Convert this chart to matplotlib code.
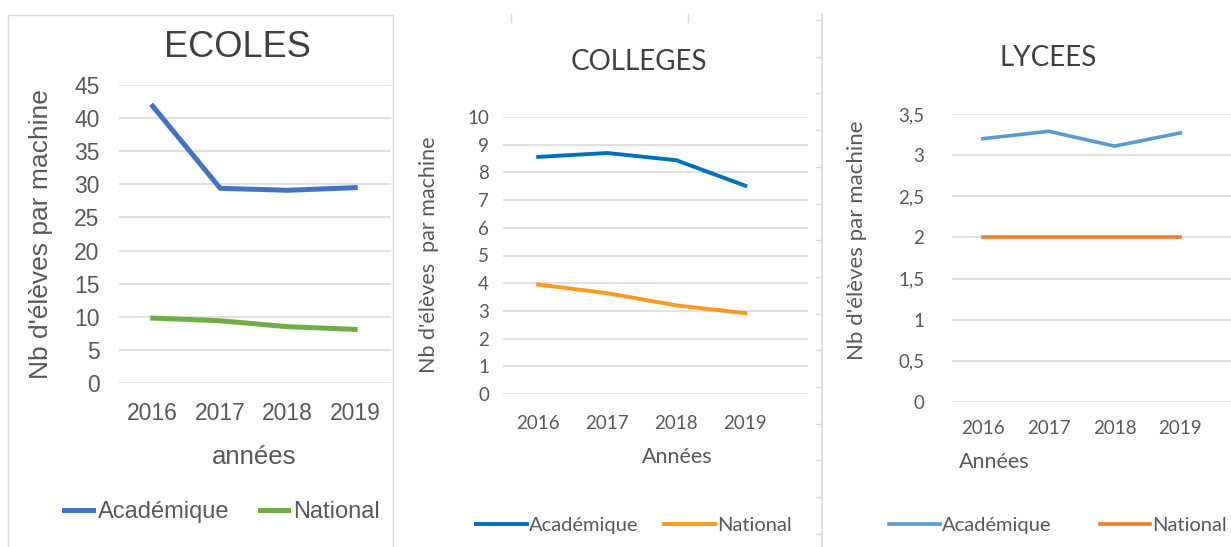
import matplotlib
matplotlib.use("Agg")
import matplotlib.pyplot as plt
from matplotlib.patches import Rectangle
from matplotlib.lines import Line2D

# --- Données ---
annees = ["2016", "2017", "2018", "2019"]

ecoles_academique = [41.8, 29.4, 29.1, 29.5]
ecoles_national = [9.8, 9.4, 8.5, 8.1]

colleges_academique = [8.56, 8.70, 8.44, 7.52]
colleges_national = [3.95, 3.64, 3.20, 2.92]

lycees_academique = [3.20, 3.29, 3.11, 3.27]
lycees_national = [2.0, 2.0, 2.0, 2.0]

W, H = 1231, 547
GRIS = "#595959"
GRILLE = "#D9D9D9"


def fx(px):
    return px / W


def fy(py):
    return 1 - py / H


def axe(left, right, top, bottom):
    # position en pixels -> coordonnées figure
    return fig.add_axes([fx(left), fy(bottom), fx(right - left), (bottom - top) / H])


def style_axe(ax, ticks, labels, font, size, pad_y, pad_x):
    for s in ax.spines.values():
        s.set_visible(False)
    ax.set_yticks(ticks)
    ax.set_yticklabels(labels)
    ax.set_xticks(range(len(annees)))
    ax.set_xticklabels(annees)
    ax.tick_params(length=0, colors=GRIS, labelsize=size)
    ax.tick_params(axis="y", pad=pad_y)
    ax.tick_params(axis="x", pad=pad_x)
    for t in ax.get_xticklabels() + ax.get_yticklabels():
        t.set_family(font)
    ax.yaxis.grid(True, color=GRILLE, lw=1.1)
    ax.set_axisbelow(True)
    ax.patch.set_alpha(0)


fig = plt.figure(figsize=(W / 100, H / 100), dpi=100)
x = range(len(annees))

# --- ECOLES ---
ax1 = axe(119, 391, 85, 383)
ax1.plot(x, ecoles_academique, color="#4472C4", lw=3.6, label="Académique")
ax1.plot(x, ecoles_national, color="#70AD47", lw=3.6, label="National")
ax1.set_ylim(0, 45)
ax1.set_xlim(-0.5, 3.53)
style_axe(ax1, range(0, 50, 5), [str(v) for v in range(0, 50, 5)],
          "Liberation Sans", 16.5, 14, 14)
fig.text(fx(237), fy(48), "ECOLES", ha="center", va="center", fontsize=26,
         color="#404040", family="Liberation Sans")
fig.text(fx(254), fy(457), "années", ha="center", va="center", fontsize=18.5,
         color=GRIS, family="Liberation Sans")
fig.text(fx(41), fy(234), "Nb d'élèves par machine", ha="center", va="center",
         rotation=90, fontsize=19, color=GRIS, family="Liberation Sans")
leg1 = ax1.legend(loc="center", bbox_to_anchor=(fx(222), fy(512)),
                  bbox_transform=fig.transFigure, ncol=2, frameon=False,
                  prop={"family": "Liberation Sans", "size": 17},
                  handlelength=1.2, handletextpad=0.2, columnspacing=1.3)
for t in leg1.get_texts():
    t.set_color(GRIS)

# --- COLLEGES ---
ax2 = axe(503, 808, 117, 394)
ax2.plot(x, colleges_academique, color="#0070C0", lw=2.8, label="Académique")
ax2.plot(x, colleges_national, color="#F89A1C", lw=2.8, label="National")
ax2.set_ylim(0, 10)
ax2.set_xlim(-0.51, 3.91)
style_axe(ax2, range(0, 11), [str(v) for v in range(0, 11)], "Lato", 13.5, 10, 15)
fig.text(fx(639), fy(62), "COLLEGES", ha="center", va="center", fontsize=20,
         color="#404040", family="Lato")
fig.text(fx(677), fy(457), "Années", ha="center", va="center", fontsize=15.5,
         color=GRIS, family="Lato")
fig.text(fx(429), fy(255), "Nb d'élèves  par machine", ha="center", va="center",
         rotation=90, fontsize=15.5, color=GRIS, family="Lato")
leg2 = ax2.legend(loc="center", bbox_to_anchor=(fx(634), fy(525)),
                  bbox_transform=fig.transFigure, ncol=2, frameon=False,
                  prop={"family": "Lato", "size": 14.5},
                  handlelength=2.5, handletextpad=0.1, columnspacing=1.3)
for t in leg2.get_texts():
    t.set_color(GRIS)

# --- LYCEES ---
ax3 = axe(952, 1231, 114, 402)
ax3.plot(x, lycees_academique, color="#5B9BD5", lw=2.6, label="Académique")
ax3.plot(x, lycees_national, color="#ED7D31", lw=2.6, label="National")
ax3.set_ylim(0, 3.5)
ax3.set_xlim(-0.47, 3.77)
yt3 = [0, 0.5, 1, 1.5, 2, 2.5, 3, 3.5]
style_axe(ax3, yt3, ["0", "0,5", "1", "1,5", "2", "2,5", "3", "3,5"], "Lato", 13.5, 20, 13)
fig.text(fx(1048), fy(58), "LYCEES", ha="center", va="center", fontsize=20,
         color="#404040", family="Lato")
fig.text(fx(994), fy(462), "Années", ha="center", va="center", fontsize=15.5,
         color=GRIS, family="Lato")
fig.text(fx(857), fy(240), "Nb d'élèves par machine", ha="center", va="center",
         rotation=90, fontsize=16, color=GRIS, family="Lato")
leg3 = ax3.legend(loc="center", bbox_to_anchor=(fx(1058), fy(525)),
                  bbox_transform=fig.transFigure, ncol=2, frameon=False,
                  prop={"family": "Lato", "size": 14.5},
                  handlelength=2.5, handletextpad=0.1, columnspacing=2.4)
for t in leg3.get_texts():
    t.set_color(GRIS)

# --- cadres et séparateurs ---
fig.add_artist(Rectangle((fx(8), fy(548)), fx(393 - 8), (548 - 15) / H,
                         transform=fig.transFigure, fill=False,
                         edgecolor=GRILLE, lw=1))
fig.add_artist(Line2D([fx(822), fx(822)], [fy(15), fy(547)],
                      transform=fig.transFigure, color=GRILLE, lw=1.2))
yy = 20
while yy < H:
    fig.add_artist(Line2D([fx(816), fx(822)], [fy(yy), fy(yy)],
                          transform=fig.transFigure, color=GRILLE, lw=1))
    yy += 36.7
for xx in (511, 688):
    fig.add_artist(Line2D([fx(xx), fx(xx)], [fy(14), fy(22)],
                          transform=fig.transFigure, color=GRILLE, lw=1))

fig.savefig("out.png", dpi=100)
